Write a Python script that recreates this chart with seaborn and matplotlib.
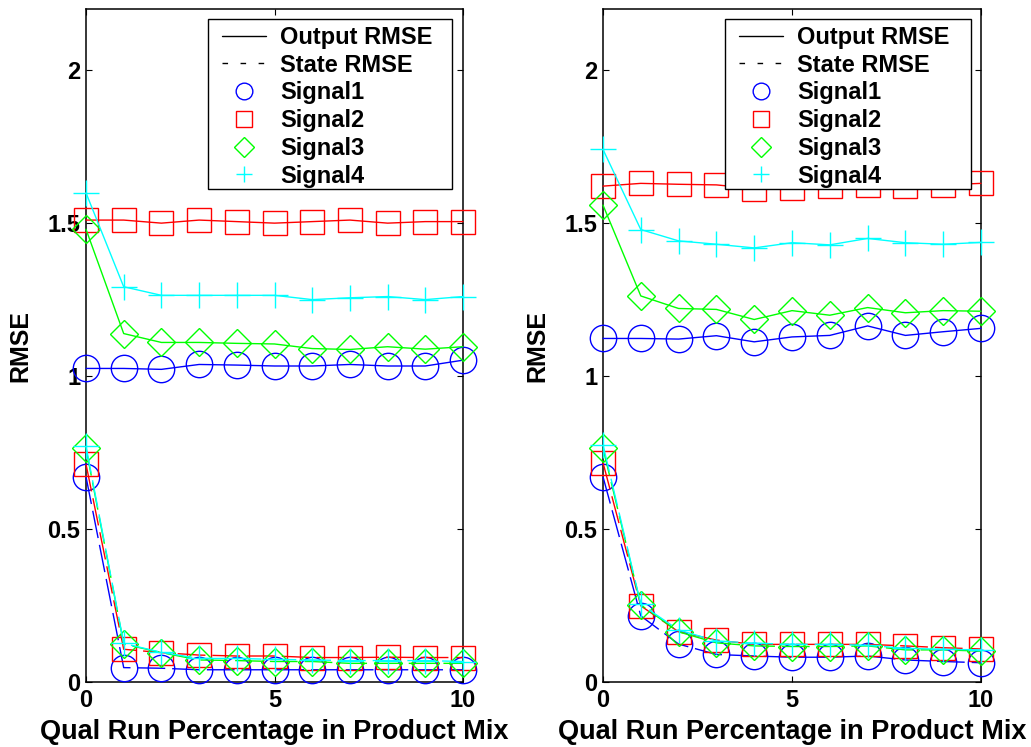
import numpy as np
import pandas as pd
import matplotlib
matplotlib.use("Agg")
import matplotlib.pyplot as plt
from matplotlib.lines import Line2D
from matplotlib.patches import Rectangle
import seaborn as sns

# Qual run percentage (x axis)
pct = [0, 1, 2, 3, 4, 5, 6, 7, 8, 9, 10]

signals = ["Signal1", "Signal2", "Signal3", "Signal4"]

# Left case: output RMSE per signal
left_output = {
    "Signal1": [1.025, 1.025, 1.022, 1.038, 1.036, 1.033, 1.033, 1.038, 1.033, 1.033, 1.052],
    "Signal2": [1.510, 1.510, 1.500, 1.510, 1.505, 1.500, 1.505, 1.510, 1.500, 1.505, 1.505],
    "Signal3": [1.480, 1.139, 1.110, 1.110, 1.107, 1.105, 1.090, 1.087, 1.096, 1.088, 1.096],
    "Signal4": [1.599, 1.292, 1.264, 1.264, 1.264, 1.264, 1.250, 1.256, 1.260, 1.250, 1.260],
}
# Left case: state RMSE per signal
left_state = {
    "Signal1": [0.671, 0.047, 0.045, 0.040, 0.040, 0.040, 0.040, 0.040, 0.040, 0.040, 0.040],
    "Signal2": [0.712, 0.107, 0.096, 0.088, 0.085, 0.085, 0.080, 0.080, 0.081, 0.080, 0.080],
    "Signal3": [0.764, 0.124, 0.096, 0.072, 0.070, 0.067, 0.067, 0.061, 0.061, 0.061, 0.061],
    "Signal4": [0.771, 0.126, 0.097, 0.077, 0.077, 0.074, 0.072, 0.070, 0.070, 0.070, 0.067],
}
# Right case: output RMSE per signal
right_output = {
    "Signal1": [1.123, 1.123, 1.121, 1.132, 1.112, 1.128, 1.133, 1.164, 1.133, 1.145, 1.156],
    "Signal2": [1.621, 1.630, 1.627, 1.625, 1.613, 1.615, 1.620, 1.625, 1.622, 1.625, 1.630],
    "Signal3": [1.559, 1.262, 1.221, 1.218, 1.185, 1.214, 1.199, 1.224, 1.207, 1.214, 1.212],
    "Signal4": [1.741, 1.479, 1.442, 1.431, 1.419, 1.436, 1.429, 1.450, 1.436, 1.431, 1.437],
}
# Right case: state RMSE per signal
right_state = {
    "Signal1": [0.671, 0.216, 0.124, 0.090, 0.085, 0.081, 0.081, 0.085, 0.072, 0.067, 0.063],
    "Signal2": [0.717, 0.249, 0.164, 0.137, 0.123, 0.123, 0.123, 0.123, 0.118, 0.112, 0.108],
    "Signal3": [0.764, 0.252, 0.164, 0.128, 0.118, 0.116, 0.116, 0.118, 0.105, 0.105, 0.101],
    "Signal4": [0.775, 0.254, 0.170, 0.134, 0.127, 0.123, 0.123, 0.120, 0.110, 0.107, 0.105],
}

y_ticks = [0, 0.5, 1, 1.5, 2]
y_tick_labels = ["0", "0.5", "1", "1.5", "2"]
x_ticks = [0, 5, 10]
x_tick_labels = ["0", "5", "10"]
legend_labels = ["Output RMSE", "State RMSE"] + signals

colors = {"Signal1": (0, 0, 1), "Signal2": (1, 0, 0), "Signal3": (0, 1, 0), "Signal4": (0, 1, 1)}
markers = {"Signal1": "o", "Signal2": "s", "Signal3": "D", "Signal4": "+"}
msizes = {"Signal1": 19, "Signal2": 17, "Signal3": 14, "Signal4": 19}
state_dash = (0, (20, 5))

sns.set_theme(style="white")
plt.rcParams["font.family"] = ["Liberation Sans", "DejaVu Sans"]
plt.rcParams["font.weight"] = "bold"
plt.rcParams["text.color"] = "black"
plt.rcParams["axes.labelcolor"] = "black"
plt.rcParams["xtick.color"] = "black"
plt.rcParams["ytick.color"] = "black"

TICK_FS = 17
LEG_FS = 17
XLAB_FS = 19.5
YLAB_FS = 18

fig = plt.figure(figsize=(10.31, 7.47), dpi=100)
ax_l = fig.add_axes([86 / 1031, 65 / 747, 377 / 1031, 673 / 747])
ax_r = fig.add_axes([603 / 1031, 65 / 747, 378 / 1031, 673 / 747])


def long_frame(values, metric):
    rows = []
    for s in signals:
        for x, v in zip(pct, values[s]):
            rows.append({"pct": x, "rmse": v, "signal": s, "metric": metric})
    return pd.DataFrame(rows)


def draw_panel(ax, output_vals, state_vals, box, anchor):
    df = pd.concat([long_frame(output_vals, "Output RMSE"),
                    long_frame(state_vals, "State RMSE")], ignore_index=True)
    for metric, ls in [("Output RMSE", "-"), ("State RMSE", state_dash)]:
        for s in signals:
            sub = df[(df["metric"] == metric) & (df["signal"] == s)]
            sns.lineplot(data=sub, x="pct", y="rmse", ax=ax, color=colors[s],
                         linestyle=ls, linewidth=1.0, marker=markers[s],
                         markersize=msizes[s], markerfacecolor="none",
                         markeredgecolor=colors[s], markeredgewidth=1.0,
                         legend=False, errorbar=None, sort=False, clip_on=False)
    ax.set_xlim(0, 10)
    ax.set_ylim(0, 2.2)
    ax.set_xticks(x_ticks)
    ax.set_xticklabels(x_tick_labels, fontsize=TICK_FS, fontweight="bold")
    ax.set_yticks(y_ticks)
    ax.set_yticklabels(y_tick_labels, fontsize=TICK_FS, fontweight="bold")
    ax.tick_params(direction="in", length=4.5, width=0.8, top=True, right=True,
                   bottom=True, left=True, colors="black", labelcolor="black")
    ax.tick_params(axis="x", pad=5)
    ax.tick_params(axis="y", pad=4)
    for sp in ax.spines.values():
        sp.set_visible(True)
        sp.set_color("black")
        sp.set_linewidth(1.1)
        sp.set_zorder(0.5)
    ax.set_xlabel("Qual Run Percentage in Product Mix", fontsize=XLAB_FS,
                  fontweight="bold", labelpad=5)
    ax.set_ylabel("RMSE", fontsize=YLAB_FS, fontweight="bold", labelpad=11)

    # legend box (white, black edge) drawn behind the legend entries
    x0, y0, x1, y1 = box
    ax.add_patch(Rectangle((x0, y0), x1 - x0, y1 - y0, transform=ax.transAxes,
                           facecolor="white", edgecolor="black", linewidth=1.0,
                           zorder=4.9, clip_on=False))

    handles = [
        Line2D([], [], color="black", linestyle="-", linewidth=1.0),
        Line2D([], [], color="black", linestyle=(0, (4, 9)), linewidth=1.0),
    ]
    for s in signals:
        handles.append(Line2D([], [], color=colors[s], linestyle="none",
                              marker=markers[s], markersize=12 if s != "Signal3" else 10,
                              markerfacecolor="none", markeredgecolor=colors[s],
                              markeredgewidth=1.0))
    leg = ax.legend(handles, legend_labels, loc="upper left",
                    bbox_to_anchor=anchor, borderaxespad=0,
                    prop={"size": LEG_FS, "weight": "bold"}, frameon=False,
                    handlelength=1.85, handletextpad=0.62, labelspacing=0.2,
                    borderpad=0)
    leg.set_zorder(5)
    for t in leg.get_texts():
        t.set_color("black")


draw_panel(ax_l, left_output, left_state,
           (0.3236, 0.7325, 0.9708, 0.9851), (0.3607, 0.9747))
draw_panel(ax_r, right_output, right_state,
           (0.3228, 0.7325, 0.9735, 0.9851), (0.3598, 0.9747))

fig.savefig("out.png", dpi=100, facecolor="white")
